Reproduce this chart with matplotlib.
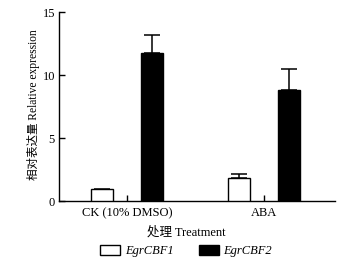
import matplotlib
matplotlib.use("Agg")
import matplotlib.pyplot as plt
import numpy as np

plt.rcParams['font.family'] = ['Liberation Serif', 'Noto Sans CJK SC']

TREATMENTS = ['CK (10% DMSO)', 'ABA']
GENES = ['EgrCBF1', 'EgrCBF2']
CBF1_MEAN = [1.0, 1.88]
CBF1_ERR = [np.nan, 0.3]
CBF2_MEAN = [11.73, 8.85]
CBF2_ERR = [1.47, 1.62]

fig = plt.figure(figsize=(3.52, 2.63), dpi=100)
ax = fig.add_axes([0.168, 0.234, 0.784, 0.72])

x = np.arange(len(TREATMENTS))
width = 0.165
offset = 0.182

ax.bar(x - offset, CBF1_MEAN, width, color='white', edgecolor='black',
       linewidth=1.0, label=GENES[0], zorder=3)
ax.bar(x + offset, CBF2_MEAN, width, color='black', edgecolor='black',
       linewidth=1.0, label=GENES[1], zorder=3)
ax.errorbar(x - offset, CBF1_MEAN, yerr=[np.zeros(len(x)), CBF1_ERR], fmt='none',
            ecolor='black', elinewidth=1.1, capsize=6, capthick=1.1, zorder=2)
ax.errorbar(x + offset, CBF2_MEAN, yerr=[np.zeros(len(x)), CBF2_ERR], fmt='none',
            ecolor='black', elinewidth=1.1, capsize=6, capthick=1.1, zorder=2)

ax.set_ylim(0, 15)
ax.set_xlim(-0.496, 1.518)
ax.set_yticks([0, 5, 10, 15])
ax.set_xticks(x)
ax.set_xticklabels(TREATMENTS, fontsize=9)
ax.tick_params(axis='y', direction='in', length=4, width=1, labelsize=9, pad=3)
ax.tick_params(axis='x', direction='in', length=4, width=1, pad=4)

for side in ('top', 'right'):
    ax.spines[side].set_visible(False)
for side in ('left', 'bottom'):
    ax.spines[side].set_linewidth(1.0)

ax.set_ylabel('相对表达量 Relative expression', fontsize=8.3)
ax.yaxis.set_label_coords(-0.07, 0.51)
ax.set_xlabel('处理 Treatment', fontsize=9)
ax.xaxis.set_label_coords(0.46, -0.13)

leg = ax.legend(loc='upper center', bbox_to_anchor=(0.46, -0.205), ncol=2,
                frameon=False, fontsize=9, handlelength=1.6, handleheight=0.8,
                handletextpad=0.4, columnspacing=2.0, borderaxespad=0)
for text in leg.get_texts():
    text.set_fontstyle('italic')

fig.savefig('out.png', dpi=100, facecolor='white')
